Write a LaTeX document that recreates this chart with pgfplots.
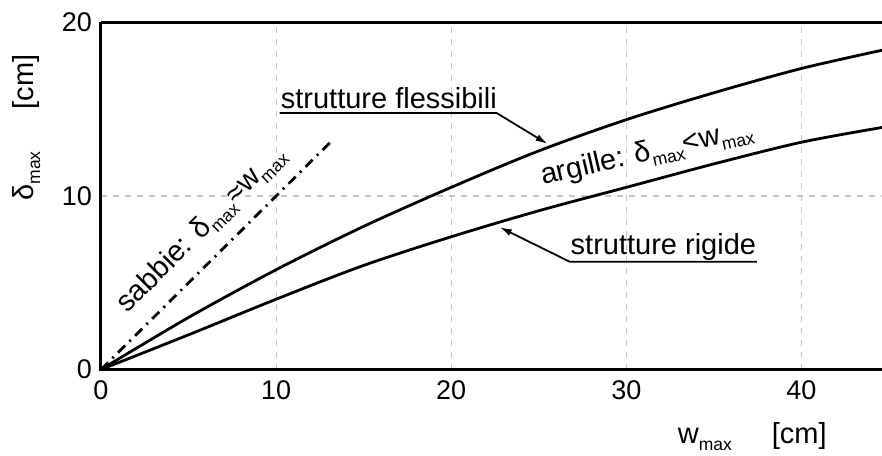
\documentclass[border=0pt]{standalone}
\usepackage{fontspec}
\setmainfont{Liberation Sans}
\usepackage{pgfplots}
\pgfplotsset{compat=1.18}
\usetikzlibrary{arrows.meta,calc}

% subscript "max" set small and lowered
\newcommand\sub[1]{\raisebox{-3.5pt}{\fontsize{8.75}{9}\selectfont #1}}
\newcommand\txt{\fontsize{14.5}{16}\selectfont}

\begin{document}
\begin{tikzpicture}
\begin{axis}[
  name=ax,
  scale only axis,
  width=390.5pt, height=173.5pt,
  xmin=0, xmax=44.6, ymin=0, ymax=20,
  xtick={0,10,20,30,40}, ytick={0,10,20},
  axis line style={draw=none},
  tick style={draw=none},
  grid=major,
  major grid style={dashed, gray!45, line width=0.6pt},
  ticklabel style={font=\fontsize{13.5}{14}\selectfont},
  /pgf/number format/assume math mode=true,
  xticklabel style={yshift=-2pt},
  yticklabel style={xshift=-1pt},
  clip=false,
]
% frame: left, bottom and top
\draw[line width=1.5pt] (rel axis cs:0,1) -- (rel axis cs:0,0) -- (rel axis cs:1,0);
\draw[line width=1.5pt] (rel axis cs:0,1) -- (rel axis cs:1,1);

% sabbie
\addplot[black, line width=1.4pt, dash pattern=on 5pt off 3pt on 1pt off 3pt]
  coordinates {(0,0) (13.2,13.2)};
% strutture flessibili
\addplot[black, line width=1.4pt, smooth] coordinates {
  (0,0) (5,3.0) (10,5.75) (15,8.25) (20,10.5) (25,12.6) (30,14.4)
  (35,15.95) (40,17.35) (44.6,18.4)};
% strutture rigide
\addplot[black, line width=1.4pt, smooth] coordinates {
  (0,0) (5,2.0) (10,4.05) (15,6.0) (20,7.65) (25,9.15) (30,10.5)
  (35,11.85) (40,13.1) (44.6,13.95)};

% annotations
\node[anchor=base west, inner sep=0pt] at (axis cs:10.25,15.07) {\txt strutture flessibili};
\draw[line width=0.9pt, -{Latex[length=6pt,width=3.5pt]}]
  (axis cs:10.2,14.78) -- (axis cs:22.6,14.78) -- (axis cs:25.5,13.0);
\node[anchor=base west, inner sep=0pt] at (axis cs:26.8,6.6) {\txt strutture rigide};
\draw[line width=0.9pt, -{Latex[length=6pt,width=3.5pt]}]
  (axis cs:37.45,6.21) -- (axis cs:26.77,6.21) -- (axis cs:22.77,8.2);
\node[anchor=base west, inner sep=0pt, rotate=13] at (axis cs:25.23,10.63)
  {\txt argille: δ\sub{max}<w\sub{max}};
\node[anchor=base west, inner sep=0pt, rotate=45] at (axis cs:1.5,3.2)
  {\txt sabbie: δ\sub{max}≈w\sub{max}};

% axis labels
\node[anchor=base, inner sep=0pt] at (axis cs:37.19,-4.24)
  {\txt w\sub{max}\hspace{20pt}[cm]};
\node[anchor=base, inner sep=0pt, rotate=90] at (axis cs:-3.88,13.95)
  {\txt δ\sub{max}\hspace{21pt}[cm]};
\end{axis}
\pgfresetboundingbox
\path[use as bounding box] ($(ax.south west)+(-50.5pt,-42.75pt)$) rectangle ($(ax.north east)+(0pt,11.25pt)$);
\end{tikzpicture}
\end{document}
